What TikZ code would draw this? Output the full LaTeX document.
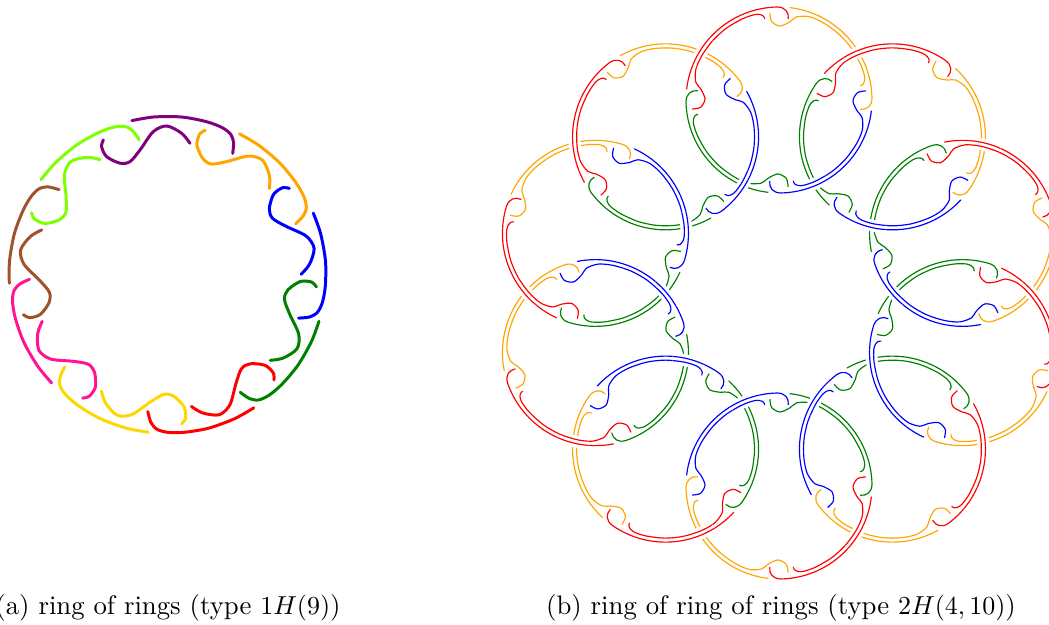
\documentclass[tikz,border=0pt]{standalone}
\definecolor{ringpurple}{RGB}{128,0,128}
\definecolor{ringorange}{RGB}{255,165,0}
\definecolor{ringgreen}{RGB}{0,128,0}
\definecolor{ringgold}{RGB}{255,215,0}
\definecolor{ringpink}{RGB}{255,20,147}
\definecolor{ringbrown}{RGB}{160,82,45}
\definecolor{ringlime}{RGB}{127,255,0}
\tikzset{
  thicklink/.style={line width=1.15pt, line cap=round},
  thinlink/.style={line width=0.45pt, line cap=round},
  gap/.style={draw=white, line width=3pt},
  caption/.style={anchor=base, inner sep=0pt, font=\fontsize{10.3}{12}\selectfont}
}
\newcommand{\ringlinkA}[1]{%
  \draw[thicklink,#1] plot[smooth] coordinates {(13:158.4) (5:158.6) (-5:158.6) (-14:158.2) (-20:157.3) (-24:154.5) (-26.5:148) (-28.2:138)};
  \draw[thicklink,#1] plot[smooth] coordinates {(-9.7:133.6) (-5.7:142.4) (0.3:149) (5.7:144) (12.4:128) (18.3:119.4) (23:121.4) (27.2:133) (27.2:144.2) (25.4:149.5)};
}
\newcommand{\ringlinkB}[2]{%
  \draw[thinlink,#1,#2] (85.2:93) arc[start angle=85.2, end angle=3, radius=93] .. controls (-2:93) and (-4.5:88) .. (-4.5:82);
  \draw[thinlink,#1,#2] plot[smooth] coordinates {(98:87) (97.3:78.7) (91.2:74) (84:79) (80:85) (72:88.6) (62:89) (50:89) (38:89) (26:89) (18:88.8) (14.5:87.5) (12.5:85.2) (12:82.5)};
}
\newcommand{\linkedring}[1]{%
  \begin{scope}[rotate=-2]\ringlinkB{ringorange}{#1}\end{scope}
  \begin{scope}[rotate=88]\ringlinkB{red}{#1}\end{scope}
  \begin{scope}[rotate=178]\ringlinkB{ringgreen}{#1}\end{scope}
  \begin{scope}[rotate=268]\ringlinkB{blue}{#1}\end{scope}
}

\begin{document}
\begin{tikzpicture}[x=0.385pt, y=0.385pt]
	\useasboundingbox (0,0) rectangle (1049,625);
	\coordinate (ca) at (167.5,350);
	\coordinate (cb) at (779,332);
	\foreach \a/\c in {90/ringpurple, 50/ringorange, 10/blue, -30/ringgreen, -70/red, -110/ringgold, -150/ringpink, 170/ringbrown, 130/ringlime}{
		\begin{scope}[shift={(ca)}, rotate=\a]
			\ringlinkA{\c}
		\end{scope}
	}
	\foreach \k in {0,...,9}{
		\begin{scope}[shift={(cb)}, rotate=36*\k, shift={(90:193)}]
			\linkedring{}
		\end{scope}
	}
	\foreach \k in {0,...,9}{
		\begin{scope}[shift={(cb)}, rotate=36*\k, shift={(90:193)}]
			\clip (147.9:93) circle[radius=16] (291.9:93) circle[radius=16];
			\linkedring{gap}
			\linkedring{}
		\end{scope}
	}
	\node[caption] (capa) at (168,10) {(a) ring of rings (type $1H(9)$)};
	\node[caption] (capb) at (781,10) {(b) ring of ring of rings (type $2H(4,10)$)};
\end{tikzpicture}
\end{document}
